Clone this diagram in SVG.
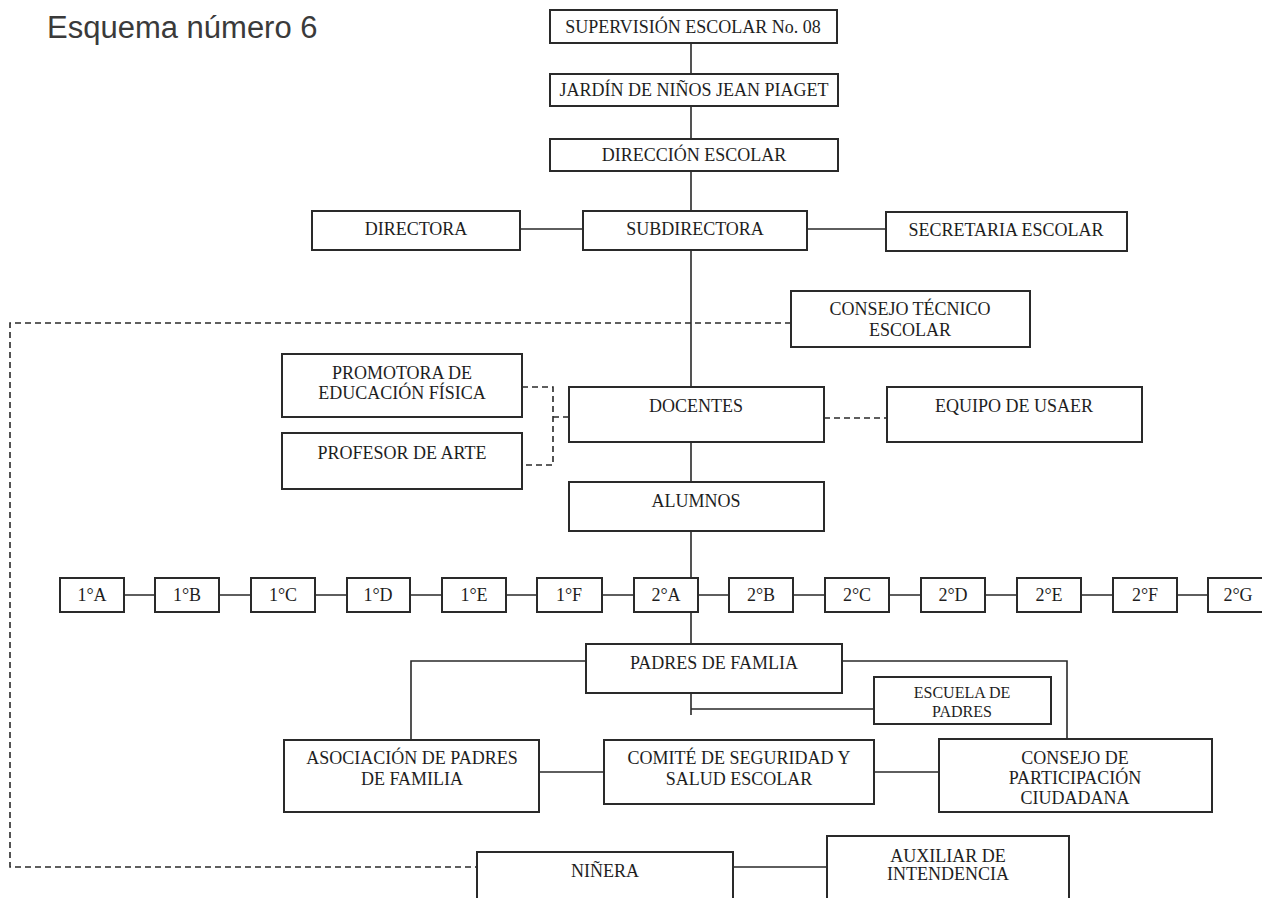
<svg xmlns="http://www.w3.org/2000/svg" width="1262" height="898" viewBox="0 0 1262 898">
<style>
.b{fill:#fff;stroke:#2a2a2a;stroke-width:2}
.t{font-family:"Liberation Serif","Times New Roman",serif;font-size:18px;fill:#1e1e1e;text-anchor:middle}
.s{font-size:16px}
.l{fill:none;stroke:#2a2a2a;stroke-width:1.6}
.d{fill:none;stroke:#2a2a2a;stroke-width:1.6;stroke-dasharray:6 4}
.title{font-family:"Liberation Sans",Arial,sans-serif;font-size:31px;fill:#3a3a3a}
</style>
<rect width="1262" height="898" fill="#fff"/>
<text class="title" x="47" y="38">Esquema número 6</text>
<g id="connectors">
<path class="l" d="M691 43V74M691 106V139M691 171V211M691 250V387M691 442V482M691 531V578M691 612V644M691 693V715M691 709H874"/>
<path class="l" d="M520 229H583M807 229H886"/>
<path class="d" d="M791 323H10V867H477"/>
<path class="d" d="M522 387H553V465H522M553 417H569"/>
<path class="d" d="M824 418H887"/>
<path class="l" d="M124 595H155M219 595H251M315 595H347M410 595H442M506 595H537M602 595H634M698 595H729M793 595H825M889 595H921M985 595H1017M1081 595H1113M1177 595H1208"/>
<path class="l" d="M586 661H411V740M842 661H1067V739"/>
<path class="l" d="M539 772H604M874 772H939M733 867H827"/>
</g>
<g id="n-supervision"><rect class="b" x="550" y="10" width="287" height="33"/><text class="t" x="693" y="33">SUPERVISIÓN ESCOLAR No. 08</text></g>
<g id="n-jardin"><rect class="b" x="550" y="74" width="288" height="32"/><text class="t" x="694" y="96">JARDÍN DE NIÑOS JEAN PIAGET</text></g>
<g id="n-direccion"><rect class="b" x="550" y="139" width="288" height="32"/><text class="t" x="694" y="161">DIRECCIÓN ESCOLAR</text></g>
<g id="n-directora"><rect class="b" x="312" y="211" width="208" height="39"/><text class="t" x="416" y="235">DIRECTORA</text></g>
<g id="n-subdirectora"><rect class="b" x="583" y="211" width="224" height="39"/><text class="t" x="695" y="235">SUBDIRECTORA</text></g>
<g id="n-secretaria"><rect class="b" x="886" y="212" width="241" height="39"/><text class="t" x="1006" y="236">SECRETARIA ESCOLAR</text></g>
<g id="n-consejo-tecnico"><rect class="b" x="791" y="291" width="239" height="56"/><text class="t" x="910" y="315">CONSEJO TÉCNICO</text><text class="t" x="910" y="336">ESCOLAR</text></g>
<g id="n-promotora"><rect class="b" x="282" y="354" width="240" height="63"/><text class="t" x="402" y="379">PROMOTORA DE</text><text class="t" x="402" y="399">EDUCACIÓN FÍSICA</text></g>
<g id="n-profesor"><rect class="b" x="282" y="433" width="240" height="56"/><text class="t" x="402" y="459">PROFESOR DE ARTE</text></g>
<g id="n-docentes"><rect class="b" x="569" y="387" width="255" height="55"/><text class="t" x="696" y="412">DOCENTES</text></g>
<g id="n-usaer"><rect class="b" x="887" y="387" width="255" height="55"/><text class="t" x="1014" y="412">EQUIPO DE USAER</text></g>
<g id="n-alumnos"><rect class="b" x="569" y="482" width="255" height="49"/><text class="t" x="696" y="507">ALUMNOS</text></g>
<g id="n-1a"><rect class="b" x="60" y="578" width="64" height="34"/><text class="t" x="92" y="601">1°A</text></g>
<g id="n-1b"><rect class="b" x="155" y="578" width="64" height="34"/><text class="t" x="187" y="601">1°B</text></g>
<g id="n-1c"><rect class="b" x="251" y="578" width="64" height="34"/><text class="t" x="283" y="601">1°C</text></g>
<g id="n-1d"><rect class="b" x="347" y="578" width="63" height="34"/><text class="t" x="378" y="601">1°D</text></g>
<g id="n-1e"><rect class="b" x="442" y="578" width="64" height="34"/><text class="t" x="474" y="601">1°E</text></g>
<g id="n-1f"><rect class="b" x="537" y="578" width="65" height="34"/><text class="t" x="569" y="601">1°F</text></g>
<g id="n-2a"><rect class="b" x="634" y="578" width="64" height="34"/><text class="t" x="666" y="601">2°A</text></g>
<g id="n-2b"><rect class="b" x="729" y="578" width="64" height="34"/><text class="t" x="761" y="601">2°B</text></g>
<g id="n-2c"><rect class="b" x="825" y="578" width="64" height="34"/><text class="t" x="857" y="601">2°C</text></g>
<g id="n-2d"><rect class="b" x="921" y="578" width="64" height="34"/><text class="t" x="953" y="601">2°D</text></g>
<g id="n-2e"><rect class="b" x="1017" y="578" width="64" height="34"/><text class="t" x="1049" y="601">2°E</text></g>
<g id="n-2f"><rect class="b" x="1113" y="578" width="64" height="34"/><text class="t" x="1145" y="601">2°F</text></g>
<g id="n-2g"><rect class="b" x="1208" y="578" width="64" height="34"/><text class="t" x="1238" y="601">2°G</text></g>
<g id="n-padres"><rect class="b" x="586" y="644" width="256" height="49"/><text class="t" x="714" y="669">PADRES DE FAMLIA</text></g>
<g id="n-escuela"><rect class="b" x="874" y="677" width="177" height="47"/><text class="t s" x="962" y="698">ESCUELA DE</text><text class="t s" x="962" y="717">PADRES</text></g>
<g id="n-asociacion"><rect class="b" x="284" y="740" width="255" height="72"/><text class="t" x="412" y="764">ASOCIACIÓN DE PADRES</text><text class="t" x="412" y="785">DE FAMILIA</text></g>
<g id="n-comite"><rect class="b" x="604" y="740" width="270" height="64"/><text class="t" x="739" y="764">COMITÉ DE SEGURIDAD Y</text><text class="t" x="739" y="785">SALUD ESCOLAR</text></g>
<g id="n-consejo-participacion"><rect class="b" x="939" y="739" width="273" height="73"/><text class="t" x="1075" y="764">CONSEJO DE</text><text class="t" x="1075" y="784">PARTICIPACIÓN</text><text class="t" x="1075" y="804">CIUDADANA</text></g>
<g id="n-ninera"><rect class="b" x="477" y="852" width="256" height="48"/><text class="t" x="605" y="877">NIÑERA</text></g>
<g id="n-auxiliar"><rect class="b" x="827" y="836" width="242" height="64"/><text class="t" x="948" y="862">AUXILIAR DE</text><text class="t" x="948" y="880">INTENDENCIA</text></g>
</svg>
